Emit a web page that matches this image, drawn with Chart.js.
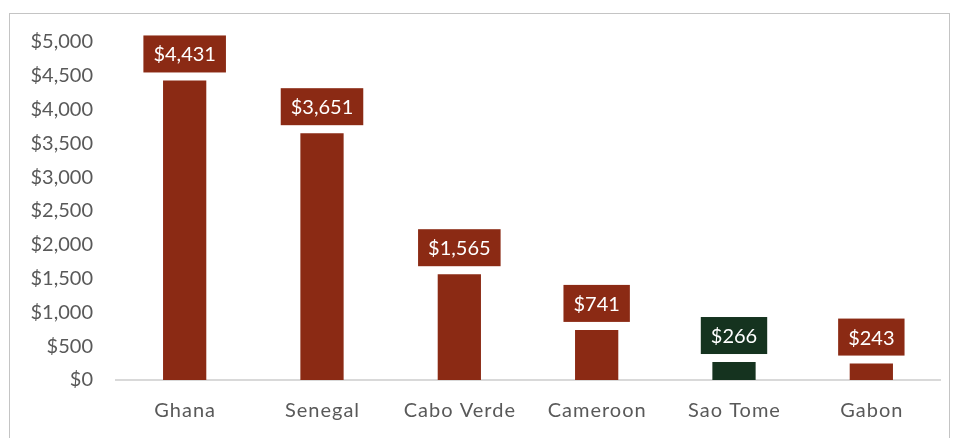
<!DOCTYPE html>
<html><head><meta charset="utf-8">
<script src="https://cdn.jsdelivr.net/npm/chart.js@4/dist/chart.umd.min.js"></script>
<style>
html,body{margin:0;padding:0;background:#fff;}
#wrap{position:relative;width:954px;height:438px;}
#frame{position:absolute;left:9px;top:13px;width:941px;height:440px;border:1px solid #c4c4c4;box-sizing:border-box;}
canvas{position:absolute;left:0;top:0;}
</style></head><body>
<div id="wrap"><div id="frame"></div><canvas id="c" width="954" height="438"></canvas></div>
<script>
const categories = ["Ghana","Senegal","Cabo Verde","Cameroon","Sao Tome","Gabon"];
const values = [4431,3651,1565,741,266,243];
const tickValues = [0,500,1000,1500,2000,2500,3000,3500,4000,4500,5000];
const RED = "#8B2A14", GREEN = "#15331F";
const colors = categories.map(c => c === "Sao Tome" ? GREEN : RED);
const FONT = "Lato, 'Open Sans', sans-serif";
const fmt = v => "$" + v.toLocaleString("en-US");

const labelPlugin = {
  id: "boxLabels",
  afterDatasetsDraw(chart) {
    const ctx = chart.ctx;
    const meta = chart.getDatasetMeta(0);
    ctx.save();
    ctx.font = "20px " + FONT;
    ctx.textAlign = "center";
    ctx.textBaseline = "middle";
    meta.data.forEach((bar, i) => {
      const txt = fmt(values[i]);
      const w = ctx.measureText(txt).width + 20;
      const h = 37;
      const bottom = bar.y - 8;
      ctx.fillStyle = colors[i];
      ctx.fillRect(bar.x - w / 2, bottom - h, w, h);
      ctx.fillStyle = "#ffffff";
      ctx.fillText(txt, bar.x, bottom - h / 2 + 1);
    });
    // category labels
    const xs = chart.scales.x;
    ctx.font = "20px " + FONT;
    if ('letterSpacing' in ctx) ctx.letterSpacing = "1px";
    ctx.fillStyle = "#595959";
    categories.forEach((c, i) => {
      ctx.fillText(c, xs.getPixelForValue(i) + 0.5, 411);
    });
    ctx.restore();
  }
};

new Chart(document.getElementById("c"), {
  type: "bar",
  data: {
    labels: categories,
    datasets: [{
      data: values,
      backgroundColor: colors,
      barPercentage: 0.315,
      categoryPercentage: 1.0,
      borderWidth: 0
    }]
  },
  options: {
    responsive: false,
    animation: false,
    devicePixelRatio: 1,
    layout: { padding: { left: 0, right: 14, top: 42, bottom: 0 } },
    plugins: { legend: { display: false }, tooltip: { enabled: false } },
    scales: {
      x: {
        grid: { display: false, drawTicks: false },
        border: { display: true, color: "#d9d9d9", width: 2 },
        ticks: { display: false },
        afterFit: s => { s.height = 58; }
      },
      y: {
        min: 0, max: 5000,
        afterBuildTicks: s => { s.ticks = tickValues.map(v => ({ value: v })); },
        grid: { display: false, drawTicks: false },
        border: { display: false },
        ticks: { color: "#595959", font: { family: FONT, size: 20 }, padding: 23, callback: v => fmt(v) },
        afterFit: s => { s.width = 116; }
      }
    }
  },
  plugins: [labelPlugin]
});
</script>
</body></html>
